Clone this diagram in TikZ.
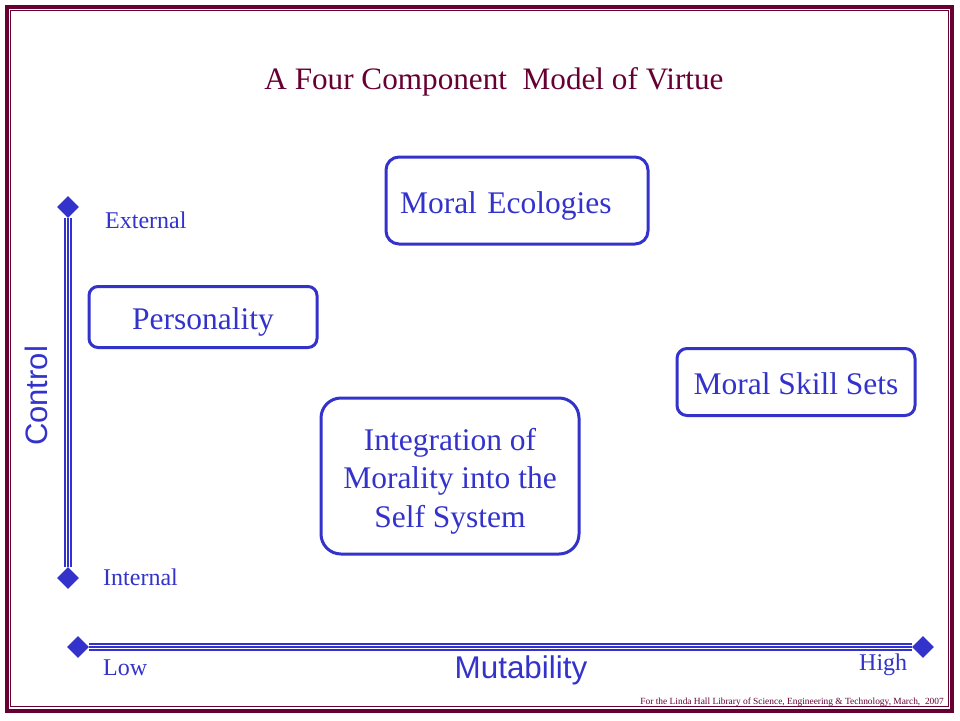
\documentclass[tikz,border=0pt]{standalone}
\usepackage{fontspec}
\setmainfont{Liberation Serif}
\newfontfamily\arialf{Liberation Sans}
\usetikzlibrary{shapes.geometric}
\definecolor{pblue}{HTML}{3333CC}
\definecolor{maroon}{HTML}{660033}
\tikzset{
  box/.style={draw=pblue, line width=3pt, text=pblue, font=\fontsize{31.5}{38.5}\selectfont, align=center, inner sep=0pt},
  onebox/.style={box, text height=25pt, text depth=0pt},
  lbl/.style={text=pblue, font=\fontsize{24}{28}\selectfont, inner sep=0pt},
  endmark/.style={diamond, fill=pblue, minimum size=22pt, inner sep=0pt},
  axisline/.style={draw=pblue, line width=8pt,
     postaction={draw=white, line width=4.5pt},
     postaction={draw=pblue, line width=2pt}},
}
\begin{document}
\begin{tikzpicture}[x=1pt, y=-1pt]
\useasboundingbox (0,0) rectangle (960,720);
\fill[white] (0,0) rectangle (960,720);
% border
\draw[maroon, line width=4pt] (7,7) rectangle (952,711);
\draw[maroon, line width=1pt] (10.5,10.5) rectangle (948.5,706.5);
% title
\node[text=maroon, font=\fontsize{31.2}{36}\selectfont, inner sep=0pt] (title) at (494,82) {A Four Component\ \ Model of Virtue};
% boxes
\node[onebox, rounded corners=13pt, minimum height=87pt, text width=234pt, inner xsep=14pt, align=left] (eco) at (517,200.5) {Moral Ecologies};
\node[onebox, rounded corners=9pt, minimum width=228pt, minimum height=61pt] (pers) at (203,317) {Personality};
\node[onebox, rounded corners=10pt, minimum width=238pt, minimum height=67pt] (skill) at (796,382) {Moral Skill Sets};
\node[box, rounded corners=20pt, minimum width=258pt, minimum height=156pt, text height=102.7pt, text depth=0pt] (integ) at (450,476) {Integration of\\Morality into the\\Self System};
% axes
\node[endmark] (vtop) at (68,207) {};
\node[endmark] (vbot) at (68,578) {};
\node[endmark] (hleft) at (78,647) {};
\node[endmark] (hright) at (923,647) {};
\draw[axisline] (vtop) -- (vbot);
\draw[axisline] (hleft) -- (hright);
% axis labels
\node[lbl, anchor=west] (ext) at (105,220) {External};
\node[lbl, anchor=west] (int) at (103,577) {Internal};
\node[lbl, anchor=west] (low) at (103,668) {Low};
\node[lbl, anchor=west] (high) at (859,665) {High};
\node[text=pblue, font=\arialf\fontsize{31.4}{36}\selectfont, inner sep=0pt] (mut) at (521,670) {Mutability};
\node[text=pblue, font=\arialf\fontsize{31}{36}\selectfont, inner sep=0pt, rotate=90] (ctrl) at (36,396) {Control};
% footer
\node[text=maroon, font=\fontsize{9.4}{11}\selectfont, inner sep=0pt, anchor=east] (foot) at (944,702) {For the Linda Hall Library of Science, Engineering \& Technology, March,\ \ 2007};
\end{tikzpicture}
\end{document}
